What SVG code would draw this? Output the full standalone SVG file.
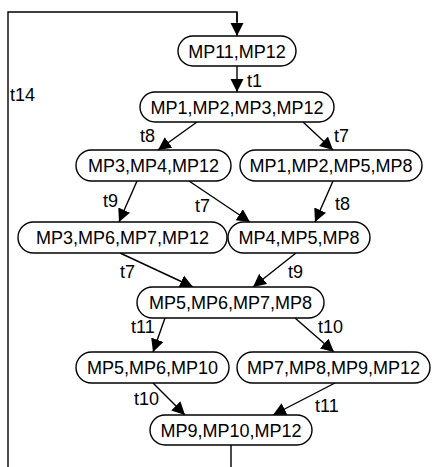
<svg xmlns="http://www.w3.org/2000/svg" width="432" height="467" viewBox="0 0 432 467">
<style>
.n rect{fill:#fff;stroke:#000;stroke-width:1.4}
.n text{font-family:"Liberation Sans",Arial,sans-serif;font-size:18px;text-anchor:middle;fill:#000}
.e line,.e path{stroke:#000;stroke-width:1.4;fill:none}
.e line{marker-end:url(#ah)}
.lb{font-family:"Liberation Sans",Arial,sans-serif;font-size:18px;fill:#000}
</style>
<defs>
<marker id="ah" markerUnits="userSpaceOnUse" markerWidth="14" markerHeight="14" viewBox="0 0 14 14" refX="13" refY="7" orient="auto">
<path d="M0,0.5 L13,7 L0,13.5 Z" fill="#000"/>
</marker>
</defs>
<rect width="432" height="467" fill="#fff"/>
<g class="e" id="connectors">
<path d="M231,445 V480 H8 V12 H237 V22" />
<line x1="237" y1="12" x2="237" y2="36"/>
<line x1="237" y1="66" x2="237" y2="92"/>
<line x1="197" y1="122" x2="158" y2="150"/>
<line x1="303" y1="122" x2="333" y2="150"/>
<line x1="137" y1="181" x2="119" y2="222"/>
<line x1="189" y1="181" x2="250" y2="222"/>
<line x1="333" y1="181" x2="315" y2="222"/>
<line x1="120" y1="253" x2="193" y2="287"/>
<line x1="296" y1="253" x2="253" y2="287"/>
<line x1="165" y1="318" x2="153" y2="352"/>
<line x1="295" y1="318" x2="334" y2="352"/>
<line x1="153" y1="383" x2="185" y2="415"/>
<line x1="335" y1="383" x2="273" y2="415"/>
</g>
<g id="labels">
<text class="lb" x="10" y="101">t14</text>
<text class="lb" x="247" y="87">t1</text>
<text class="lb" x="140" y="142">t8</text>
<text class="lb" x="334" y="142">t7</text>
<text class="lb" x="103" y="207">t9</text>
<text class="lb" x="195" y="212">t7</text>
<text class="lb" x="335" y="210">t8</text>
<text class="lb" x="120" y="278">t7</text>
<text class="lb" x="288" y="278">t9</text>
<text class="lb" x="131" y="333">t11</text>
<text class="lb" x="318" y="333">t10</text>
<text class="lb" x="134" y="405">t10</text>
<text class="lb" x="315" y="412">t11</text>
</g>
<g class="n" id="n1"><rect x="178" y="36" width="118" height="30" rx="15"/><text x="237" y="57.5">MP11,MP12</text></g>
<g class="n" id="n2"><rect x="140" y="92" width="194" height="30" rx="15"/><text x="237" y="113.5">MP1,MP2,MP3,MP12</text></g>
<g class="n" id="n3"><rect x="76" y="150" width="155" height="31" rx="15.5"/><text x="153.5" y="172">MP3,MP4,MP12</text></g>
<g class="n" id="n4"><rect x="240" y="150" width="182" height="31" rx="15.5"/><text x="331" y="172">MP1,MP2,MP5,MP8</text></g>
<g class="n" id="n5"><rect x="18" y="222" width="209" height="31" rx="15.5"/><text x="122.5" y="244">MP3,MP6,MP7,MP12</text></g>
<g class="n" id="n6"><rect x="228" y="222" width="142" height="31" rx="15.5"/><text x="299" y="244">MP4,MP5,MP8</text></g>
<g class="n" id="n7"><rect x="137" y="287" width="187" height="31" rx="15.5"/><text x="230.5" y="309">MP5,MP6,MP7,MP8</text></g>
<g class="n" id="n8"><rect x="76" y="352" width="153" height="31" rx="15.5"/><text x="152.5" y="374">MP5,MP6,MP10</text></g>
<g class="n" id="n9"><rect x="237" y="352" width="193" height="31" rx="15.5"/><text x="333.5" y="374">MP7,MP8,MP9,MP12</text></g>
<g class="n" id="n10"><rect x="150" y="415" width="162" height="30" rx="15"/><text x="231" y="436.5">MP9,MP10,MP12</text></g>
</svg>
